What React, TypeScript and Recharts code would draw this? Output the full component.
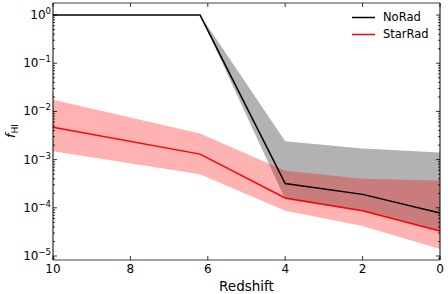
import {
  ComposedChart,
  Area,
  Line,
  XAxis,
  YAxis,
  Legend,
} from 'recharts';

// redshift snapshots and the HI fraction
const redshifts = [10, 6.2, 4, 2, 0];

const noRad = [1, 1, 3.2e-4, 1.9e-4, 7.8e-5];
const noRadLow = [1, 1, 1.5e-4, 8.5e-5, 3.3e-5];
const noRadHigh = [1, 1, 2.4e-3, 1.7e-3, 1.4e-3];

const starRad = [4.7e-3, 1.3e-3, 1.6e-4, 8.7e-5, 3.3e-5];
const starRadLow = [1.5e-3, 5e-4, 8.7e-5, 4.2e-5, 1.4e-5];
const starRadHigh = [1.75e-2, 3.5e-3, 5.9e-4, 4e-4, 3.7e-4];

const xTicks = [0, 2, 4, 6, 8, 10];
const decades = [-6, -5, -4, -3, -2, -1, 0];

const Y_MIN = Math.pow(10, -5.083);
const Y_MAX = Math.pow(10, 0.25);

const yTicks: number[] = [];
decades.forEach((k) => {
  for (let m = 1; m <= 9; m++) {
    const v = m * Math.pow(10, k);
    if (v >= Y_MIN && v <= Y_MAX) yTicks.push(v);
  }
});

const data = redshifts.map((z, i) => ({
  z,
  noRad: noRad[i],
  noRadBand: [noRadLow[i], noRadHigh[i]],
  starRad: starRad[i],
  starRadBand: [starRadLow[i], starRadHigh[i]],
}));

const FONT = '"DejaVu Sans", sans-serif';

const isPow10 = (v: number) => {
  const l = Math.log10(v);
  return Math.abs(l - Math.round(l)) < 1e-6;
};

const LeftTick = (props: any) => {
  const { x, y, payload } = props;
  const v = payload.value;
  const major = isPow10(v);
  const exp = Math.round(Math.log10(v));
  return (
    <g>
      <line x1={x} x2={x + (major ? 4 : 2)} y1={y} y2={y} stroke="#000" strokeWidth={0.8} />
      {major && (
        <text x={x - 2} y={y + 4} textAnchor="end" fontFamily={FONT} fontSize={12} fill="#000">
          10
          <tspan dy={-5} fontSize={8.5}>{exp === 0 ? '0' : `\u2212${-exp}`}</tspan>
        </text>
      )}
    </g>
  );
};

const RightTick = (props: any) => {
  const { x, y, payload } = props;
  const major = isPow10(payload.value);
  return <line x1={x} x2={x - (major ? 4 : 2)} y1={y} y2={y} stroke="#000" strokeWidth={0.8} />;
};

const BottomTick = (props: any) => {
  const { x, y, payload } = props;
  return (
    <g>
      <line x1={x} x2={x} y1={y} y2={y - 4} stroke="#000" strokeWidth={0.8} />
      <text x={x} y={y + 13} textAnchor="middle" fontFamily={FONT} fontSize={12} fill="#000">
        {payload.value}
      </text>
    </g>
  );
};

const TopTick = (props: any) => {
  const { x, y } = props;
  return <line x1={x} x2={x} y1={y} y2={y + 4} stroke="#000" strokeWidth={0.8} />;
};

const YLabel = () => (
  <text
    transform="translate(15, 131) rotate(-90)"
    textAnchor="middle"
    fontFamily={FONT}
    fontSize={13}
    fill="#000"
  >
    <tspan fontStyle="italic">f</tspan>
    <tspan dy={3} fontSize={9}>HI</tspan>
  </text>
);

const LegendBox = () => (
  <div style={{ fontFamily: FONT, fontSize: 11.5, lineHeight: '17px', color: '#000' }}>
    {[
      { name: 'NoRad', color: '#000000' },
      { name: 'StarRad', color: '#ff0000' },
    ].map((e) => (
      <div key={e.name} style={{ display: 'flex', alignItems: 'center' }}>
        <svg width={31} height={17}>
          <line x1={0} x2={23} y1={8.5} y2={8.5} stroke={e.color} strokeWidth={1.5} />
        </svg>
        <span>{e.name}</span>
      </div>
    ))}
  </div>
);

export default function App() {
  return (
    <div style={{ position: 'absolute', left: 0, top: 0, background: '#fff' }}>
      <ComposedChart width={448} height={294} data={data} margin={{ top: 0, right: 0, bottom: 0, left: 0 }}>
        <XAxis
          xAxisId="b"
          dataKey="z"
          type="number"
          domain={[0, 10]}
          reversed
          ticks={xTicks}
          interval={0}
          height={34}
          tickSize={0}
          tickMargin={0}
          tickLine={false}
          axisLine={{ stroke: '#808080', strokeWidth: 1.6 }}
          tick={<BottomTick />}
          label={{ value: 'Redshift', position: 'insideBottom', offset: 3, fontFamily: FONT, fontSize: 13.5, fill: '#000' }}
        />
        <XAxis
          xAxisId="t"
          dataKey="z"
          type="number"
          orientation="top"
          domain={[0, 10]}
          reversed
          ticks={xTicks}
          interval={0}
          height={3}
          tickSize={0}
          tickMargin={0}
          tickLine={false}
          axisLine={{ stroke: '#808080', strokeWidth: 1.6 }}
          tick={<TopTick />}
        />
        <YAxis
          yAxisId="l"
          scale="log"
          type="number"
          domain={[Y_MIN, Y_MAX]}
          allowDataOverflow
          ticks={yTicks}
          interval={0}
          width={53}
          tickSize={0}
          tickMargin={0}
          tickLine={false}
          axisLine={{ stroke: '#000', strokeWidth: 1 }}
          tick={<LeftTick />}
          label={<YLabel />}
        />
        <YAxis
          yAxisId="r"
          orientation="right"
          scale="log"
          type="number"
          domain={[Y_MIN, Y_MAX]}
          allowDataOverflow
          ticks={yTicks}
          interval={0}
          width={8}
          tickSize={0}
          tickMargin={0}
          tickLine={false}
          axisLine={{ stroke: '#000', strokeWidth: 1 }}
          tick={<RightTick />}
        />
        <Legend
          layout="horizontal"
          align="center"
          verticalAlign="middle"
          content={<LegendBox />}
          wrapperStyle={{ left: 352, top: 9, width: 90 }}
        />
        <Area
          xAxisId="b"
          yAxisId="l"
          dataKey="noRadBand"
          type="linear"
          stroke="none"
          fill="#000000"
          fillOpacity={0.3}
          isAnimationActive={false}
          legendType="none"
        />
        <Area
          xAxisId="b"
          yAxisId="l"
          dataKey="starRadBand"
          type="linear"
          stroke="none"
          fill="#ff0000"
          fillOpacity={0.3}
          isAnimationActive={false}
          legendType="none"
        />
        <Line
          xAxisId="b"
          yAxisId="l"
          dataKey="noRad"
          name="NoRad"
          type="linear"
          stroke="#000000"
          strokeWidth={1.5}
          dot={false}
          isAnimationActive={false}
        />
        <Line
          xAxisId="b"
          yAxisId="l"
          dataKey="starRad"
          name="StarRad"
          type="linear"
          stroke="#ff0000"
          strokeWidth={1.5}
          dot={false}
          isAnimationActive={false}
        />
      </ComposedChart>
    </div>
  );
}
